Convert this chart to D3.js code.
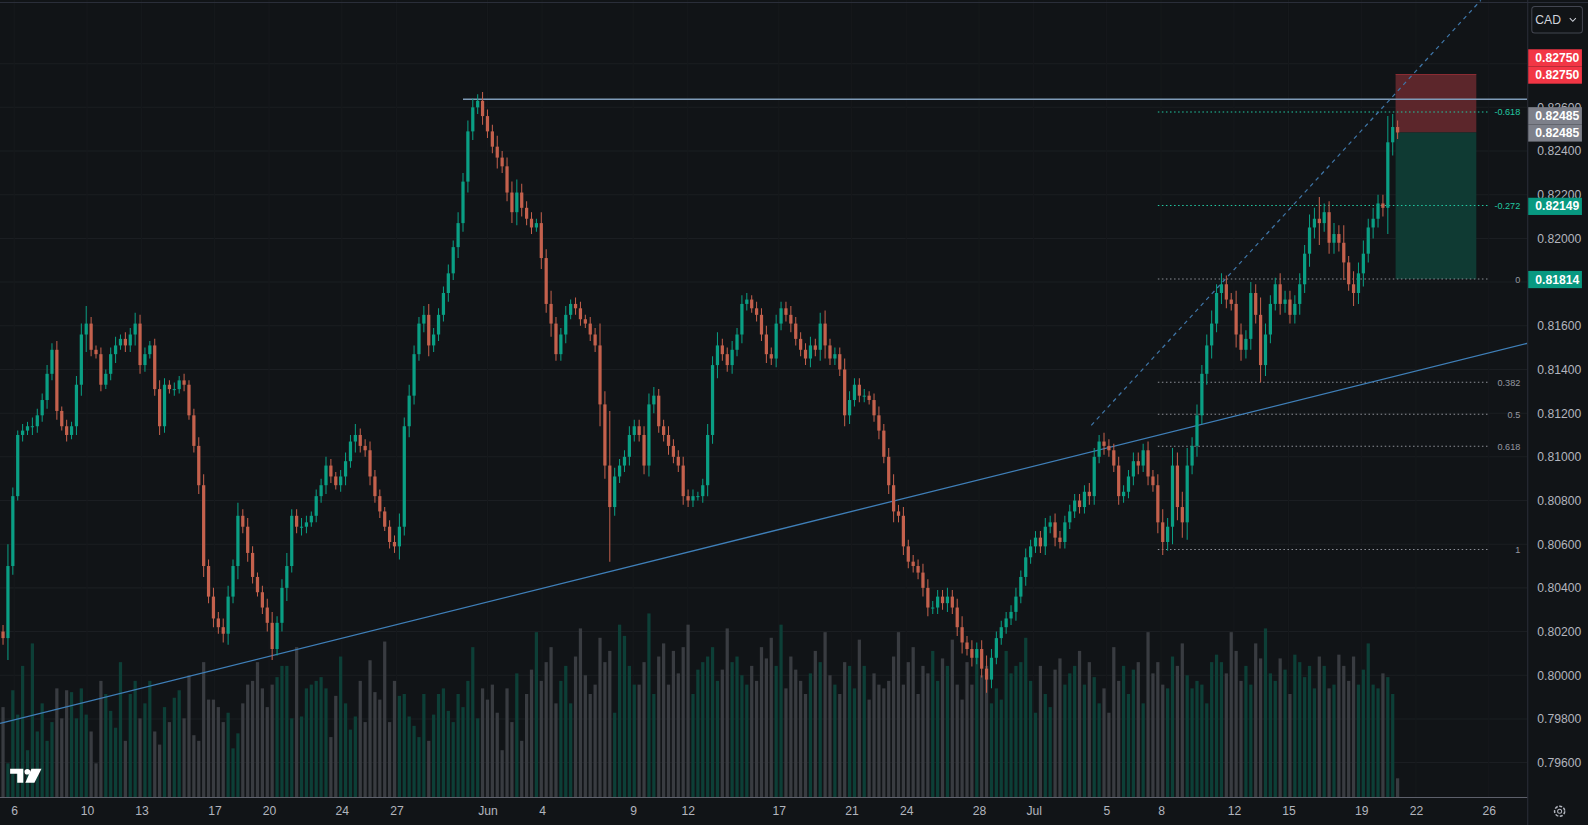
<!DOCTYPE html>
<html><head><meta charset="utf-8">
<script src="https://cdn.jsdelivr.net/npm/d3@7"></script>
<style>html,body{margin:0;padding:0;background:#111417;overflow:hidden}svg{display:block}</style>
</head><body><svg id="c" width="1588" height="825"></svg>
<script>
const closes=[.8017,.8050,.8082,.8110,.8112,.8114,.8114,.8119,.8126,.8138,
.8149,.8121,.8114,.8110,.8114,.8133,.8156,.8161,.8149,.8147,
.8133,.8138,.8147,.8151,.8154,.8151,.8156,.8161,.8142,.8147,
.8151,.8131,.8114,.8133,.8131,.8131,.8135,.8133,.8119,.8105,
.8087,.8050,.8036,.8026,.8022,.8019,.8036,.8050,.8073,.8068,
.8056,.8045,.8038,.8031,.8024,.8012,.8024,.8040,.8050,.8073,
.8068,.8068,.8070,.8073,.8082,.8087,.8096,.8091,.8087,.8091,
.8098,.8107,.8110,.8105,.8103,.8091,.8082,.8075,.8068,.8061,
.8059,.8068,.8114,.8128,.8147,.8161,.8165,.8151,.8156,.8165,
.8175,.8184,.8196,.8207,.8226,.8249,.8260,.8263,.8256,.8249,
.8242,.8237,.8233,.8221,.8212,.8221,.8214,.8209,.8205,.8207,
.8191,.8170,.8161,.8147,.8156,.8165,.8170,.8168,.8163,.8161,
.8156,.8151,.8124,.8096,.8077,.8091,.8096,.8100,.8110,.8114,
.8110,.8096,.8124,.8128,.8114,.8110,.8105,.8100,.8096,.8082,
.8080,.8082,.8082,.8087,.8110,.8142,.8151,.8147,.8142,.8149,
.8156,.8170,.8172,.8168,.8165,.8156,.8147,.8145,.8161,.8168,
.8165,.8161,.8154,.8149,.8145,.8151,.8149,.8161,.8151,.8145,
.8147,.8140,.8119,.8126,.8133,.8128,.8128,.8126,.8119,.8112,
.8100,.8087,.8075,.8073,.8059,.8052,.8050,.8047,.8040,.8031,
.8031,.8036,.8033,.8036,.8031,.8022,.8015,.8012,.8008,.8012,
.8003,.7998,.8008,.8017,.8022,.8026,.8029,.8036,.8045,.8054,
.8059,.8063,.8059,.8068,.8070,.8063,.8061,.8070,.8075,.8080,
.8077,.8084,.8082,.8100,.8107,.8105,.8103,.8096,.8082,.8084,
.8091,.8098,.8096,.8103,.8091,.8087,.8070,.8061,.8068,.8096,
.8077,.8070,.8096,.8105,.8119,.8138,.8151,.8161,.8175,.8179,
.8172,.8170,.8156,.8149,.8154,.8175,.8165,.8142,.8156,.8170,
.8179,.8170,.8172,.8165,.8170,.8179,.8193,.8205,.8209,.8207,
.8212,.8198,.8202,.8198,.8189,.8179,.8175,.8184,.8193,.8205,
.8209,.8216,.8214,.8244,.8251,.82485];
const firstOpen=.8020;
const wickPips=[3,10,4,2,3,2,4,3,3,4,3,4,2,3,2,4,5,8,3,2,3,2,3,4,2,3,3,5,4,3,2,3,4,3,2,3,2,3,2,3,
4,5,3,4,3,4,5,3,6,3,4,3,2,3,4,5,3,4,6,3,3,4,3,2,3,3,4,3,2,3,4,3,5,3,3,4,3,3,2,3,
3,6,4,5,4,3,4,5,3,3,3,4,3,5,4,5,4,3,4,3,3,5,3,4,5,6,4,3,3,2,5,4,6,3,3,4,2,3,3,2,
3,3,10,6,25,4,3,3,4,3,3,4,5,4,3,3,4,3,3,4,3,3,2,3,5,4,6,3,3,4,3,4,3,2,3,3,4,3,4,3,
3,4,3,3,3,4,3,5,6,3,3,3,5,4,3,3,3,2,3,4,3,4,5,3,4,3,3,3,4,4,3,3,3,4,3,4,5,3,4,3,
4,6,4,3,3,3,3,4,3,4,3,3,3,4,3,4,3,3,3,3,3,3,4,4,3,4,3,3,4,3,3,4,4,3,4,3,5,6,4,8,
6,7,8,4,5,4,5,6,4,5,4,3,6,5,4,5,4,8,5,4,3,5,4,4,4,5,4,6,5,10,4,5,5,4,8,3,6,5,6,4,
5,4,4,12,6,3];
const volumes=[48,18,57,44,70,25,82,35,50,30,40,58,42,57,56,42,58,44,35,18,62,55,46,37,72,30,55,62,42,50,
62,35,28,48,40,53,57,42,65,33,30,72,52,52,48,40,45,26,34,50,60,62,72,58,48,60,64,70,70,42,
80,43,58,60,62,64,58,32,54,75,50,36,43,62,40,73,56,52,83,40,62,54,55,43,38,32,55,30,44,55,
58,46,40,55,48,62,80,42,58,52,60,45,25,58,40,66,30,55,68,88,62,72,80,50,62,70,50,75,90,65,
55,60,85,72,78,45,92,86,70,60,60,72,98,55,75,82,60,78,66,80,92,55,68,72,75,80,62,68,90,72,
75,65,60,70,62,80,74,85,70,92,58,75,68,62,55,66,78,72,88,65,60,55,72,70,58,84,70,52,66,60,
58,62,75,88,60,72,80,55,70,66,78,62,74,70,84,60,52,72,60,75,65,70,50,58,52,78,66,70,72,85,
62,45,70,55,48,68,74,60,66,70,78,60,72,64,50,58,45,80,62,70,55,68,72,50,88,66,72,60,58,75,
70,82,65,58,62,60,50,72,76,72,66,88,78,62,70,60,82,74,90,66,62,74,68,55,76,72,64,70,58,75,
70,58,60,76,70,62,75,60,68,82,60,58,66,64,55,10];
const priceTicks=[0.796,0.798,0.800,0.802,0.804,0.806,0.808,0.810,0.812,0.814,0.816,0.818,0.820,0.822,0.824,0.826];
const dateTicks=["2024-05-06","2024-05-10","2024-05-13","2024-05-17","2024-05-20","2024-05-24","2024-05-27","2024-06-01","2024-06-04","2024-06-09","2024-06-12","2024-06-17","2024-06-21","2024-06-24","2024-06-28","2024-07-01","2024-07-05","2024-07-08","2024-07-12","2024-07-15","2024-07-19","2024-07-22","2024-07-26"];
const dateLabels=["6","10","13","17","20","24","27","Jun","4","9","12","17","21","24","28","Jul","5","8","12","15","19","22","26"];
const fibLevels=[-0.618,-0.272,0,0.382,0.5,0.618,1];
const fibLabels=["-0.618","-0.272","0","0.382","0.5","0.618","1"];
const fibP0=0.81814, fibP1=0.80576;
const position={entry:0.82485, stop:0.82750, target:0.81814};
const resistance=0.82637;
const trendline=[[-0.6,0.7978],[311.6,0.8152]];
const dashedLine=[[222.4,0.81144],[302,0.8309]];

const S=1588/1568;
const W=1568,H=815,plotR=1508,axisY=787;
const root=d3.select("#c");
root.append("rect").attr("width",1588).attr("height",825).attr("fill","#111417");
const svg=root.append("g").attr("transform",`scale(${S})`);
const y=d3.scaleLinear().domain([0.796,0.826]).range([753,106]);
const x=d3.scaleLinear().domain([0,closes.length-1]).range([3,1380]);
const xd=d3.scaleTime().domain([new Date("2024-05-06"),new Date("2024-07-26")]).range([14,1470]);
const yv=d3.scaleLinear().domain([0,100]).range([axisY,602]);
const UP="#0a9f84",DN="#c4614d";
const font="'Liberation Sans',Arial,sans-serif";

root.append("defs").append("clipPath").attr("id","pc").append("rect").attr("x",0).attr("y",0).attr("width",plotR).attr("height",axisY);
const plot=svg.append("g").attr("clip-path","url(#pc)");
plot.selectAll("line.gh").data(priceTicks.concat([0.828])).join("line").attr("x1",0).attr("x2",plotR)
 .attr("y1",d=>y(d)).attr("y2",d=>y(d)).attr("stroke","#1b1e22").attr("stroke-width",1);
plot.selectAll("line.gv").data(dateTicks).join("line").attr("y1",0).attr("y2",axisY)
 .attr("x1",d=>xd(new Date(d))).attr("x2",d=>xd(new Date(d))).attr("stroke","#16191c");
const data=closes.map((c,i)=>{const o=i?closes[i-1]:firstOpen;const w=(wickPips[i]||3)/10000;
 return {i,o,c,h:Math.max(o,c)+w,l:Math.min(o,c)-w,v:volumes[i]||0,up:c>=o};});
const bw=3.2;
plot.selectAll("rect.v").data(data).join("rect").attr("x",d=>x(d.i)-bw/2).attr("width",bw)
 .attr("y",d=>yv(d.v)).attr("height",d=>axisY-yv(d.v)).attr("fill",d=>d.up?"#0d3f37":"#393c41");
plot.append("rect").attr("x",x(285)-2).attr("width",x(301.5)-x(285)).attr("y",y(position.stop)).attr("height",y(position.entry)-y(position.stop)).attr("fill","#5c262b");
plot.append("line").attr("x1",x(285)-2).attr("x2",x(301.5)-2).attr("y1",y(position.stop)).attr("y2",y(position.stop)).attr("stroke","#8a2c33");
plot.append("rect").attr("x",x(285)-2).attr("width",x(301.5)-x(285)).attr("y",y(position.entry)).attr("height",y(position.target)-y(position.entry)).attr("fill","#0f3a33");
const fx1=x(236), fx2=x(308);
fibLevels.forEach((lv,k)=>{const p=fibP0-lv*(fibP0-fibP1);const neg=lv<0;
 plot.append("line").attr("x1",fx1).attr("x2",fx2-22).attr("y1",y(p)).attr("y2",y(p))
  .attr("stroke",neg?"#22c7a1":"#8a8d95").attr("stroke-dasharray","1.5,2.5").attr("stroke-width",1);
 plot.append("text").attr("x",fx2+10).attr("y",y(p)+3.5).attr("text-anchor","end").attr("font-family",font)
  .attr("font-size",9).attr("fill",neg?"#22c7a1":"#9598a1").text(fibLabels[k]);
});
plot.append("line").attr("x1",x(94)).attr("x2",plotR).attr("y1",y(resistance)).attr("y2",y(resistance)).attr("stroke","#7f9bb8").attr("stroke-width",1.3);
plot.append("line").attr("x1",x(trendline[0][0])).attr("x2",x(trendline[1][0])).attr("y1",y(trendline[0][1])).attr("y2",y(trendline[1][1])).attr("stroke","#3f7fb8").attr("stroke-width",1.3);
plot.append("line").attr("x1",x(dashedLine[0][0])).attr("x2",x(dashedLine[1][0])).attr("y1",y(dashedLine[0][1])).attr("y2",y(dashedLine[1][1])).attr("stroke","#3f76a8").attr("stroke-width",1.2).attr("stroke-dasharray","4,4");
const cw=3.2;
const cg=plot.selectAll("g.k").data(data).join("g");
cg.append("line").attr("x1",d=>x(d.i)).attr("x2",d=>x(d.i)).attr("y1",d=>y(d.h)).attr("y2",d=>y(d.l)).attr("stroke",d=>d.up?UP:DN).attr("stroke-width",1);
cg.append("rect").attr("x",d=>x(d.i)-cw/2).attr("width",cw).attr("y",d=>y(Math.max(d.o,d.c)))
 .attr("height",d=>Math.max(1,Math.abs(y(d.o)-y(d.c)))).attr("fill",d=>d.up?UP:DN);
svg.append("line").attr("x1",plotR+0.5).attr("x2",plotR+0.5).attr("y1",0).attr("y2",H).attr("stroke","#2a2e39");
svg.append("line").attr("x1",0).attr("x2",plotR).attr("y1",axisY+0.5).attr("y2",axisY+0.5).attr("stroke","#5d606b");
svg.append("line").attr("x1",0).attr("x2",W).attr("y1",2.5).attr("y2",2.5).attr("stroke","#2a2e39");
const ya=d3.axisRight(y).tickValues(priceTicks).tickFormat(d3.format(".5f")).tickSize(0).tickPadding(10);
svg.append("g").attr("transform",`translate(${plotR},0)`).call(ya).call(g=>g.select(".domain").remove())
 .selectAll("text").attr("fill","#b2b5be").attr("font-size",12).attr("font-family",font);
const xa=d3.axisBottom(xd).tickValues(dateTicks.map(d=>new Date(d))).tickFormat((d,i)=>dateLabels[i]).tickSize(0).tickPadding(9);
svg.append("g").attr("transform",`translate(0,${axisY})`).call(xa).call(g=>g.select(".domain").remove())
 .selectAll("text").attr("fill","#b2b5be").attr("font-size",12).attr("font-family",font);
function tag(p,color,dy){svg.append("rect").attr("x",plotR+1).attr("y",y(p)-8+dy).attr("width",53).attr("height",17).attr("fill",color);
 svg.append("text").attr("x",plotR+8).attr("y",y(p)+4.5+dy).attr("font-family",font).attr("font-size",12).attr("font-weight","bold").attr("fill","#fff").text(d3.format(".5f")(p));}
tag(position.stop,"#f23645",-17);tag(position.stop,"#f23645",0);
tag(position.entry,"#7d808a",-17);tag(position.entry,"#7d808a",0);
tag(0.82149,"#089981",0);tag(position.target,"#089981",0);
svg.append("rect").attr("x",1512.5).attr("y",6.5).attr("width",50).attr("height",26).attr("rx",3).attr("fill","#111417").attr("stroke","#434651");
svg.append("text").attr("x",1516).attr("y",24).attr("font-family",font).attr("font-size",12).attr("fill","#d1d4dc").text("CAD");
svg.append("path").attr("d","M1550,18 l3,3 l3,-3").attr("fill","none").attr("stroke","#d1d4dc");
svg.append("circle").attr("cx",1540).attr("cy",801).attr("r",5).attr("fill","none").attr("stroke","#b2b5be").attr("stroke-width",1.5).attr("stroke-dasharray","3,1.5");
svg.append("circle").attr("cx",1540).attr("cy",801).attr("r",2).attr("fill","none").attr("stroke","#b2b5be");
const lg=svg.append("g").attr("transform","translate(10,759)");
lg.append("path").attr("d","M0,0 H13 V14 H7 V5 H0 Z").attr("fill","#fff");
lg.append("circle").attr("cx",17).attr("cy",3).attr("r",2.8).attr("fill","#fff");
lg.append("path").attr("d","M21,0 H31 L24,14 H15 Z").attr("fill","#fff");
</script></body></html>
